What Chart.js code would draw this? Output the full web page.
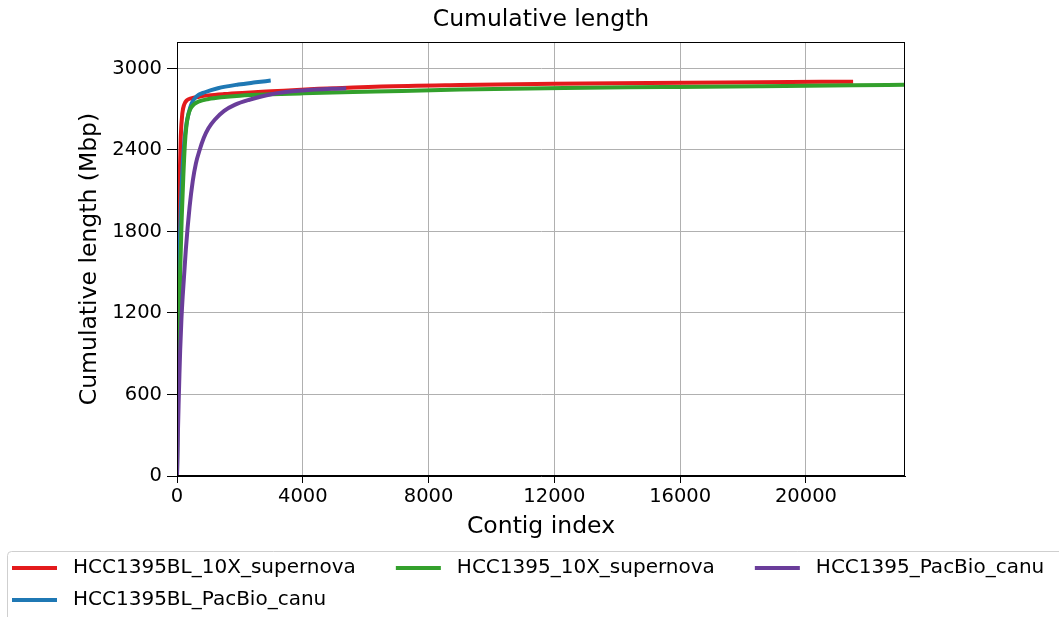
<!DOCTYPE html>
<html>
<head>
<meta charset="utf-8">
<script src="https://cdn.jsdelivr.net/npm/chart.js@4.4.0/dist/chart.umd.min.js"></script>
<style>
html,body{margin:0;padding:0;background:#fff;overflow:hidden;}
#wrap{width:1059px;height:617px;position:relative;}
</style>
</head>
<body>
<div id="wrap"><canvas id="c" width="1059" height="617"></canvas></div>
<script>
// ---- data (contig index vs cumulative length in Mbp) ----
const seriesNames = ['HCC1395BL_10X_supernova', 'HCC1395BL_PacBio_canu', 'HCC1395_10X_supernova', 'HCC1395_PacBio_canu'];
const seriesColors = ['#e31a1c', '#1f78b4', '#33a02c', '#6a3d9a'];

const redX = [0, 10, 25, 50, 80, 120, 170, 230, 310, 450, 700, 1000, 1500, 2200, 3000, 4500, 6500, 9000, 12000, 15000, 18500, 21500];
const redY = [0, 700, 1300, 1750, 2150, 2500, 2670, 2735, 2765, 2780, 2792, 2802, 2812, 2822, 2832, 2850, 2868, 2879, 2888, 2894, 2899, 2903];

const blueX = [0, 20, 50, 100, 160, 230, 300, 370, 470, 620, 890, 1300, 1950, 2500, 2980];
const blueY = [0, 600, 1200, 1800, 2200, 2450, 2590, 2670, 2745, 2795, 2825, 2855, 2882, 2898, 2911];

const greenX = [0, 30, 60, 100, 150, 200, 250, 300, 350, 420, 550, 700, 1000, 1400, 2000, 3000, 4000, 6300, 9000, 12300, 15500, 18500, 21500, 23150];
const greenY = [0, 600, 1000, 1500, 1900, 2200, 2440, 2580, 2650, 2700, 2738, 2758, 2775, 2788, 2800, 2810, 2817, 2830, 2845, 2857, 2863, 2869, 2876, 2881];

const purpleX = [0, 25, 50, 75, 100, 140, 180, 280, 400, 500, 600, 720, 850, 1000, 1200, 1500, 1850, 2300, 3000, 4000, 5380];
const purpleY = [0, 280, 520, 730, 920, 1150, 1320, 1665, 1980, 2170, 2300, 2400, 2488, 2560, 2623, 2688, 2734, 2770, 2811, 2838, 2855];

const xTickValues = [0, 4000, 8000, 12000, 16000, 20000];
const xTickLabels = ['0', '4000', '8000', '12000', '16000', '20000'];
const yTickValues = [0, 600, 1200, 1800, 2400, 3000];
const yTickLabels = ['0', '600', '1200', '1800', '2400', '3000'];

const xMax = 23150;
const yMax = 3195;

// ---- build datasets ----
const FONT = 'DejaVu Sans';
Chart.defaults.font.family = FONT;
Chart.defaults.color = '#000';

function pts(xs, ys) { return xs.map((x, i) => ({x: x, y: ys[i]})); }
const allX = [redX, blueX, greenX, purpleX];
const allY = [redY, blueY, greenY, purpleY];
// matplotlib plotting order: later series on top -> lower Chart.js order
const datasets = seriesNames.map((name, i) => ({
  label: name,
  data: pts(allX[i], allY[i]),
  borderColor: seriesColors[i],
  backgroundColor: seriesColors[i],
  borderWidth: 4,
  pointRadius: 0,
  fill: false,
  cubicInterpolationMode: 'monotone',
  order: seriesNames.length - i
}));

// ---- plugins ----
const framePlugin = {
  id: 'frame',
  afterDatasetsDraw(chart) {
    const a = chart.chartArea, ctx = chart.ctx;
    ctx.save();
    ctx.strokeStyle = '#000';
    ctx.lineWidth = 1;
    ctx.strokeRect(Math.round(a.left) + 0.5, Math.round(a.top) + 0.5, Math.round(a.right - a.left) - 1, Math.round(a.bottom - a.top) - 1);
    ctx.restore();
  }
};

const legendPlugin = {
  id: 'mplLegend',
  afterDraw(chart) {
    const ctx = chart.ctx;
    ctx.save();
    // frame
    ctx.strokeStyle = '#cfcfcf';
    ctx.lineWidth = 1;
    const fx = 7.5, fy = 551.5, fw = 1080, fh = 100, r = 4;
    ctx.beginPath();
    ctx.moveTo(fx + r, fy);
    ctx.lineTo(fx + fw, fy);
    ctx.moveTo(fx + r, fy);
    ctx.arcTo(fx, fy, fx, fy + r, r);
    ctx.lineTo(fx, fy + fh);
    ctx.stroke();
    // items, column-major as matplotlib with ncol = 3
    const ncol = 3, n = chart.data.datasets.length;
    const base = Math.floor(n / ncol), extra = n % ncol;
    const cols = [];
    let k = 0;
    for (let c = 0; c < ncol; c++) {
      const cnt = base + (c < extra ? 1 : 0);
      const col = [];
      for (let j = 0; j < cnt; j++) col.push(k++);
      cols.push(col);
    }
    ctx.font = '20px "' + FONT + '"';
    ctx.textBaseline = 'middle';
    ctx.textAlign = 'left';
    const handle = 45, pad = 16, colSpace = 40, rowH = 32, y0 = 568;
    let x = 12;
    cols.forEach(col => {
      let maxW = 0;
      col.forEach((idx, row) => {
        const ds = chart.data.datasets[idx];
        const y = y0 + row * rowH;
        ctx.strokeStyle = ds.borderColor;
        ctx.lineWidth = 4;
        ctx.beginPath();
        ctx.moveTo(x, y);
        ctx.lineTo(x + handle, y);
        ctx.stroke();
        ctx.fillStyle = '#000';
        ctx.fillText(ds.label, x + handle + pad, y);
        maxW = Math.max(maxW, ctx.measureText(ds.label).width);
      });
      x += handle + pad + maxW + colSpace;
    });
    ctx.restore();
  }
};

new Chart(document.getElementById('c'), {
  type: 'line',
  data: {datasets: datasets},
  plugins: [framePlugin, legendPlugin],
  options: {
    responsive: false,
    animation: false,
    devicePixelRatio: 1,
    layout: {padding: {left: 0, right: 154, top: 0, bottom: 66}},
    plugins: {
      legend: {display: false},
      tooltip: {enabled: false},
      title: {
        display: true,
        text: 'Cumulative length',
        fullSize: false,
        color: '#000',
        font: {size: 23.5, weight: 'normal', family: FONT},
        padding: {top: 6, bottom: 7.8}
      }
    },
    scales: {
      x: {
        type: 'linear',
        min: 0,
        max: xMax,
        afterFit(s) { s.height = 75; },
        afterBuildTicks(s) { s.ticks = xTickValues.map(v => ({value: v})); },
        ticks: {
          callback: (v) => xTickLabels[xTickValues.indexOf(v)],
          font: {size: 19.5, family: FONT},
          color: '#000',
          padding: 2,
          maxRotation: 0,
          autoSkip: false
        },
        grid: {color: '#b0b0b0', tickColor: '#000', tickLength: 7, lineWidth: 1},
        border: {color: '#000', width: 1},
        title: {display: true, text: 'Contig index', color: '#000', font: {size: 23.5, family: FONT}, padding: {top: 0, bottom: 10}}
      },
      y: {
        type: 'linear',
        min: 0,
        max: yMax,
        afterFit(s) { s.width = 177; },
        afterBuildTicks(s) { s.ticks = yTickValues.map(v => ({value: v})); },
        ticks: {
          callback: (v) => yTickLabels[yTickValues.indexOf(v)],
          font: {size: 19.5, family: FONT},
          color: '#000',
          padding: 5,
          autoSkip: false
        },
        grid: {color: '#b0b0b0', tickColor: '#000', tickLength: 10, lineWidth: 1},
        border: {color: '#000', width: 1},
        title: {display: true, text: 'Cumulative length (Mbp)', color: '#000', font: {size: 23.5, family: FONT}, padding: {top: 76, bottom: 0}}
      }
    }
  }
});
</script>
</body>
</html>
